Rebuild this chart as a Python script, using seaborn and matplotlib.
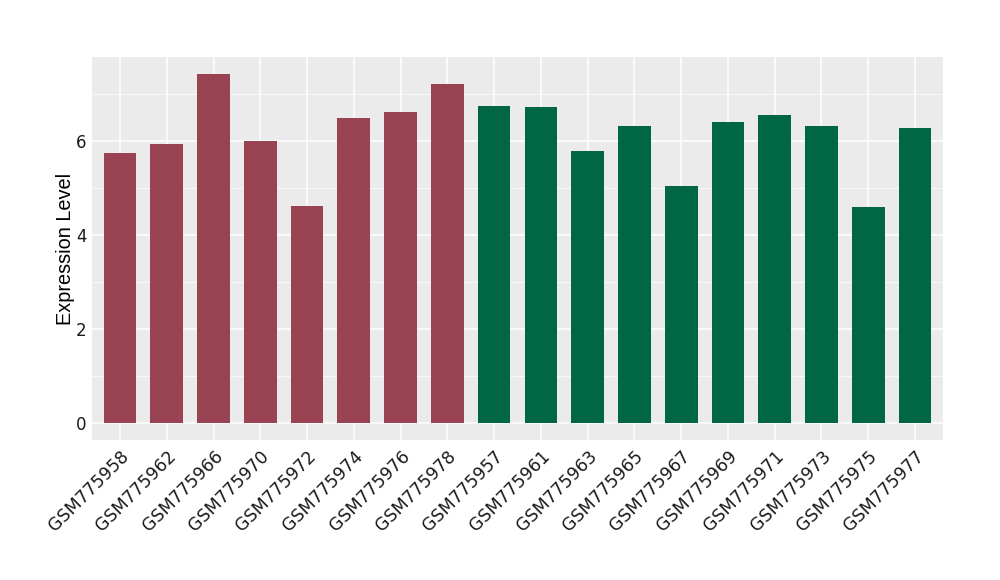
import matplotlib
matplotlib.use("Agg")
import matplotlib.pyplot as plt
import seaborn as sns
import pandas as pd
from matplotlib.ticker import MultipleLocator

samples = ["GSM775958", "GSM775962", "GSM775966", "GSM775970", "GSM775972", "GSM775974",
           "GSM775976", "GSM775978", "GSM775957", "GSM775961", "GSM775963", "GSM775965",
           "GSM775967", "GSM775969", "GSM775971", "GSM775973", "GSM775975", "GSM775977"]
values = [5.75, 5.94, 7.43, 6.01, 4.62, 6.50, 6.62, 7.22, 6.75, 6.73, 5.79, 6.32,
          5.05, 6.41, 6.56, 6.32, 4.60, 6.28]
groups = ["A"] * 8 + ["B"] * 10
group_colors = {"A": "#994251", "B": "#006644"}

df = pd.DataFrame({"sample": samples, "value": values, "group": groups})

sns.set_theme(style="darkgrid")
plt.rcParams['font.family'] = ['DejaVu Sans']

fig = plt.figure(figsize=(10, 5.8), dpi=100)
ax = fig.add_axes([0.092, 0.241, 0.851, 0.661])
ax.set_facecolor("#EBEBEB")

sns.barplot(data=df, x="sample", y="value", hue="group", palette=group_colors,
            order=samples, dodge=False, width=0.7, saturation=1, legend=False,
            linewidth=0, edgecolor="none", ax=ax)

ax.set_xlim(-0.6, len(samples) - 0.4)
ax.set_ylim(-0.36, 7.80)
ax.yaxis.set_major_locator(MultipleLocator(2))
ax.yaxis.set_minor_locator(MultipleLocator(1))
ax.grid(which="major", color="white", linewidth=1.1)
ax.grid(which="minor", axis="y", color="white", linewidth=0.5)
ax.set_axisbelow(True)
for s in ax.spines.values():
    s.set_visible(False)

ax.tick_params(axis="both", which="major", length=3, width=0.8, color="#333333",
               labelcolor="#1a1a1a", pad=2)
ax.tick_params(axis="y", which="minor", length=0)
ax.tick_params(axis="y", labelsize=12, pad=1)
ax.tick_params(axis="x", labelsize=12.5)
plt.setp(ax.get_xticklabels(), rotation=45, ha="right", rotation_mode="anchor")

ax.set_xlabel("")
ax.set_ylabel("Expression Level", fontsize=14.3, color="black", family="Liberation Sans")
ax.yaxis.set_label_coords(-0.02, 0.5)

fig.savefig("out.png", dpi=100)
